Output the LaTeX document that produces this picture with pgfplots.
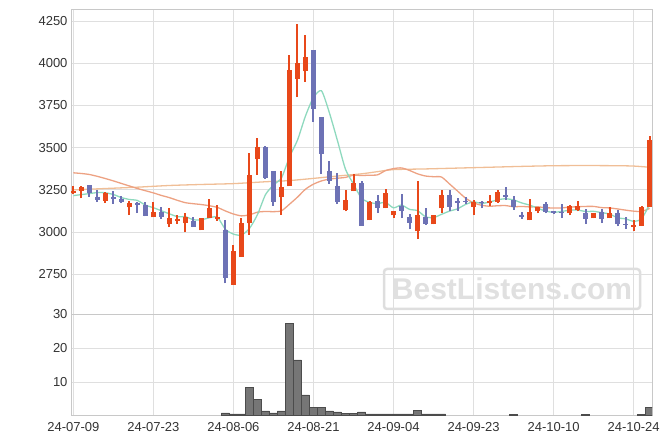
\documentclass[border=0pt]{standalone}
\usepackage{pgfplots}
\pgfplotsset{compat=1.18}
\usepackage{pgfplotstable}
\usepackage{fontspec}
\setmainfont{Liberation Sans}

\definecolor{cup}{RGB}{232,72,26}
\definecolor{cdn}{RGB}{109,114,181}
\definecolor{mafive}{RGB}{142,217,190}
\definecolor{matwenty}{RGB}{237,162,131}
\definecolor{masixty}{RGB}{240,190,150}
\definecolor{gridc}{RGB}{223,223,223}
\definecolor{axc}{RGB}{200,200,200}
\definecolor{volf}{RGB}{118,118,118}

% rising candles: wick low/high, body open/close (nan separates candles)
\pgfplotstableread[row sep=\\]{x y\\
0 3224\\0 3272\\0 nan\\ 1 3200\\1 3270\\1 nan\\ 4 3175\\4 3236\\4 nan\\
7 3101\\7 3185\\7 nan\\ 10 3087\\10 3177\\10 nan\\ 12 3030\\12 3143\\12 nan\\
13 3050\\13 3101\\13 nan\\ 14 3000\\14 3113\\14 nan\\ 16 3010\\16 3085\\16 nan\\
17 3081\\17 3196\\17 nan\\ 18 3067\\18 3161\\18 nan\\ 20 2689\\20 2925\\20 nan\\
21 2855\\21 3083\\21 nan\\ 22 2984\\22 3470\\22 nan\\ 23 3341\\23 3559\\23 nan\\
26 3103\\26 3359\\26 nan\\ 27 3270\\27 4049\\27 nan\\ 28 3799\\28 4231\\28 nan\\
29 3891\\29 4167\\29 nan\\ 34 3122\\34 3250\\34 nan\\ 35 3241\\35 3343\\35 nan\\
37 3069\\37 3183\\37 nan\\ 39 3141\\39 3258\\39 nan\\ 40 3085\\40 3127\\40 nan\\
43 2958\\43 3302\\43 nan\\ 45 3046\\45 3103\\45 nan\\ 46 3115\\46 3248\\46 nan\\
50 3100\\50 3190\\50 nan\\ 52 3153\\52 3218\\52 nan\\ 53 3175\\53 3248\\53 nan\\
57 3069\\57 3198\\57 nan\\ 58 3111\\58 3151\\58 nan\\ 62 3099\\62 3160\\62 nan\\
63 3122\\63 3182\\63 nan\\ 65 3081\\65 3115\\65 nan\\ 67 3081\\67 3148\\67 nan\\
70 3008\\70 3073\\70 nan\\ 71 3036\\71 3152\\71 nan\\ 72 3146\\72 3571\\72 nan\\
}\upwick

\pgfplotstableread[row sep=\\]{x y\\
0 3230\\0 3246\\0 nan\\ 1 3242\\1 3268\\1 nan\\ 4 3186\\4 3232\\4 nan\\
7 3147\\7 3175\\7 nan\\ 10 3087\\10 3117\\10 nan\\ 12 3046\\12 3085\\12 nan\\
13 3065\\13 3075\\13 nan\\ 14 3052\\14 3091\\14 nan\\ 16 3010\\16 3085\\16 nan\\
17 3081\\17 3145\\17 nan\\ 18 3079\\18 3091\\18 nan\\ 20 2689\\20 2889\\20 nan\\
21 2855\\21 3056\\21 nan\\ 22 3052\\22 3341\\22 nan\\ 23 3431\\23 3502\\23 nan\\
26 3205\\26 3266\\26 nan\\ 27 3270\\27 3960\\27 nan\\ 28 3909\\28 4000\\28 nan\\
29 3951\\29 4035\\29 nan\\ 34 3128\\34 3191\\34 nan\\ 35 3241\\35 3290\\35 nan\\
37 3069\\37 3180\\37 nan\\ 39 3141\\39 3230\\39 nan\\ 40 3099\\40 3127\\40 nan\\
43 3004\\43 3103\\43 nan\\ 45 3046\\45 3103\\45 nan\\ 46 3141\\46 3220\\46 nan\\
50 3149\\50 3180\\50 nan\\ 52 3171\\52 3185\\52 nan\\ 53 3180\\53 3240\\53 nan\\
57 3069\\57 3119\\57 nan\\ 58 3123\\58 3151\\58 nan\\ 62 3111\\62 3155\\62 nan\\
63 3132\\63 3156\\63 nan\\ 65 3081\\65 3115\\65 nan\\ 67 3081\\67 3113\\67 nan\\
70 3030\\70 3043\\70 nan\\ 71 3038\\71 3148\\71 nan\\ 72 3146\\72 3547\\72 nan\\
}\upbody

% falling candles
\pgfplotstableread[row sep=\\]{x y\\
2 3208\\2 3278\\2 nan\\ 3 3177\\3 3248\\3 nan\\ 5 3167\\5 3244\\5 nan\\
6 3171\\6 3216\\6 nan\\ 8 3113\\8 3179\\8 nan\\ 9 3093\\9 3177\\9 nan\\
11 3077\\11 3147\\11 nan\\ 15 3028\\15 3087\\15 nan\\ 19 2696\\19 3073\\19 nan\\
24 3315\\24 3510\\24 nan\\ 25 3155\\25 3363\\25 nan\\ 30 3651\\30 4079\\30 nan\\
31 3343\\31 3682\\31 nan\\ 32 3286\\32 3418\\32 nan\\ 33 3166\\33 3349\\33 nan\\
36 3039\\36 3300\\36 nan\\ 38 3113\\38 3220\\38 nan\\ 41 3083\\41 3226\\41 nan\\
42 3016\\42 3109\\42 nan\\ 44 3044\\44 3141\\44 nan\\ 47 3123\\47 3250\\47 nan\\
48 3125\\48 3202\\48 nan\\ 49 3167\\49 3208\\49 nan\\ 51 3141\\51 3182\\51 nan\\
54 3192\\54 3268\\54 nan\\ 55 3133\\55 3216\\55 nan\\ 56 3079\\56 3117\\56 nan\\
59 3111\\59 3178\\59 nan\\ 60 3107\\60 3125\\60 nan\\ 61 3083\\61 3167\\61 nan\\
64 3047\\64 3136\\64 nan\\ 66 3053\\66 3136\\66 nan\\ 68 3034\\68 3132\\68 nan\\
69 3018\\69 3089\\69 nan\\
}\dnwick

\pgfplotstableread[row sep=\\]{x y\\
2 3276\\2 3230\\2 nan\\ 3 3210\\3 3188\\3 nan\\ 5 3210\\5 3194\\5 nan\\
6 3198\\6 3177\\6 nan\\ 8 3175\\8 3159\\8 nan\\ 9 3163\\9 3093\\9 nan\\
11 3117\\11 3087\\11 nan\\ 15 3067\\15 3028\\15 nan\\ 19 3014\\19 2730\\19 nan\\
24 3502\\24 3319\\24 nan\\ 25 3363\\25 3177\\25 nan\\ 30 4079\\30 3726\\30 nan\\
31 3682\\31 3461\\31 nan\\ 32 3363\\32 3300\\32 nan\\ 33 3274\\33 3181\\33 nan\\
36 3290\\36 3039\\36 nan\\ 38 3186\\38 3141\\38 nan\\ 41 3157\\41 3123\\41 nan\\
42 3091\\42 3052\\42 nan\\ 44 3089\\44 3048\\44 nan\\ 47 3222\\47 3147\\47 nan\\
48 3186\\48 3171\\48 nan\\ 49 3182\\49 3177\\49 nan\\ 51 3180\\51 3175\\51 nan\\
54 3218\\54 3206\\54 nan\\ 55 3192\\55 3147\\55 nan\\ 56 3103\\56 3087\\56 nan\\
59 3165\\59 3117\\59 nan\\ 60 3123\\60 3111\\60 nan\\ 61 3118\\61 3113\\61 nan\\
64 3115\\64 3075\\64 nan\\ 66 3119\\66 3075\\66 nan\\ 68 3115\\68 3045\\68 nan\\
69 3049\\69 3043\\69 nan\\
}\dnbody

\pgfplotstableread{
i v
0 3216
1 3222
2 3228
3 3234
4 3232.8
5 3222.4
6 3204.2
7 3193.2
8 3187.4
9 3159.6
10 3144.2
11 3126.2
12 3108.2
13 3091.4
14 3091
15 3073.2
16 3072.8
17 3084.8
18 3088
19 3015.8
20 2988
21 2982.2
22 3021.4
23 3103.6
24 3221.4
25 3279
26 3321
27 3444.8
28 3544.4
29 3687.6
30 3797.4
31 3836.4
32 3704.4
33 3540.6
34 3371.8
35 3284.6
36 3200.2
37 3176.2
38 3168.2
39 3176
40 3143.4
41 3160.2
42 3134.6
43 3127
44 3090.6
45 3085.8
46 3105.2
47 3124.2
48 3137.8
49 3163.6
50 3179
51 3170
52 3177.6
53 3191.4
54 3197.2
55 3190.6
56 3173
57 3159.8
58 3142
59 3124.2
60 3117
61 3122.2
62 3129.4
63 3130.4
64 3122
65 3122.8
66 3115.2
67 3106.8
68 3084.6
69 3078.2
70 3063.8
71 3078.4
72 3165.2
}\mafive

\pgfplotstableread{
i v
0 3351
1 3347
2 3341
3 3330
4 3317
5 3303
6 3288
7 3273
8 3258
9 3245
10 3232
11 3217
12 3204
13 3188
14 3174
15 3168
16 3163
17 3156
18 3146
19 3125
20 3107
21 3096
22 3102
23 3118
24 3122
25 3121
26 3126
27 3165
28 3207
29 3254
30 3284
31 3303
32 3314
33 3319
34 3324
35 3337
36 3335
37 3337
38 3339
39 3364
40 3376
41 3380
42 3365
43 3345
44 3332
45 3328
46 3326
47 3285
48 3243
49 3201
50 3173
51 3159
52 3153
53 3156
54 3157
55 3150
56 3152
57 3149
58 3150
59 3144
60 3143
61 3143
62 3148
63 3150
64 3152
65 3152
66 3145
67 3143
68 3137
69 3130
70 3124
71 3122
72 3140
}\matwenty

\pgfplotstableread{
i v
0 3250
4 3258
8 3266
12 3276
16 3282
20 3287
24 3298
27 3305
30 3318
33 3332
36 3345
38 3358
40 3370
44 3374
48 3379
52 3384
56 3389
60 3393
64 3394
68 3393
70 3391
72 3384
}\masixty

\pgfplotstableread{
i v
19 0.9
20 0.6
21 0.6
22 8.5
23 4.8
24 1.5
25 0.9
26 1.5
27 27.3
28 16.5
29 6.2
30 2.6
31 2.6
32 1.5
33 1.2
34 0.8
35 0.8
36 1.2
37 0.6
38 0.6
39 0.6
40 0.6
41 0.6
42 0.6
43 1.6
44 0.6
45 0.6
46 0.6
55 0.5
64 0.5
71 0.5
72 2.6
}\volt

\pgfplotsset{
  base/.style={
    scale only axis, width=581pt,
    xmin=-0.3, xmax=72.3,
    axis line style={axc, line width=0.8pt},
    grid=major, major grid style={gridc, line width=0.8pt},
    major tick length=0pt,
    xtick={0,10,...,70},
    tick label style={font=\fontsize{13}{15}\selectfont, text=black!80},
    /pgf/number format/assume math mode=true,
    /pgf/number format/1000 sep={},
    unbounded coords=jump,
  },
}

\begin{document}
\begin{tikzpicture}
\path[use as bounding box] (0,0) rectangle (671pt,444pt);
% watermark
\node[draw=black!13, line width=2.5pt, rounded corners=3pt, text=black!12,
  font=\bfseries\fontsize{30}{30}\selectfont, minimum width=256pt, minimum height=40pt,
  inner sep=2pt] at (512pt,155pt) {BestListens.com};

\begin{axis}[base, at={(71pt,435pt)}, anchor=north west, height=305pt,
  ymin=2515, ymax=4321, ytick={2750,3000,...,4250}, xticklabels={}]
\addplot[masixty, line width=1.3pt, smooth, tension=0.4] table[x=i,y=v] \masixty;
\addplot[matwenty, line width=1.3pt, smooth, tension=0.4] table[x=i,y=v] \matwenty;
\addplot[mafive, line width=1.3pt, smooth, tension=0.4] table[x=i,y=v] \mafive;
\addplot[color=cup, line width=5pt, mark=none] table[x=x,y=y] \upbody;
\addplot[color=cdn, line width=5pt, mark=none] table[x=x,y=y] \dnbody;
\addplot[color=cup, line width=2pt, mark=none] table[x=x,y=y] \upwick;
\addplot[color=cdn, line width=2pt, mark=none] table[x=x,y=y] \dnwick;
\end{axis}

\begin{axis}[base, at={(71pt,130pt)}, anchor=north west, height=101pt,
  ymin=0.3, ymax=30, ytick={10,20,30},
  xticklabel style={yshift=-4pt},
  xticklabels={24-07-09,24-07-23,24-08-06,24-08-21,24-09-04,24-09-23,24-10-10,24-10-24}]
\addplot[ybar, bar width=1, fill=volf, draw=black!70, line width=0.5pt] table[x=i,y=v] \volt;
\node[rotate=90, font=\fontsize{13}{15}\selectfont, text=black!80] at (axis description cs:-0.065,0.5) {10\textsuperscript{6}};
\end{axis}
\end{tikzpicture}
\end{document}
